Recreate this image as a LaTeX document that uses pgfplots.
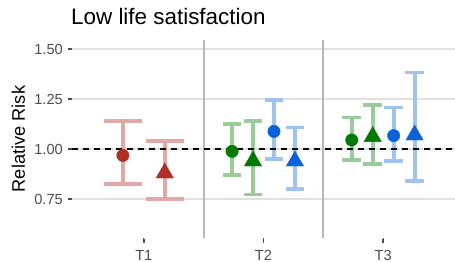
\documentclass[border=0pt]{standalone}
\usepackage{fontspec}
\setmainfont{Liberation Sans}
\usepackage{pgfplots}
\pgfplotsset{compat=1.18}
\definecolor{redD}{HTML}{B22D22}
\definecolor{redL}{HTML}{E2A8A5}
\definecolor{greenD}{HTML}{007A00}
\definecolor{greenL}{HTML}{9ACC9A}
\definecolor{blueD}{HTML}{0A62D6}
\definecolor{blueL}{HTML}{9DC3EE}
\definecolor{gridgray}{HTML}{E0E0E0}
\definecolor{sepgray}{HTML}{B8B8B8}
\definecolor{tickgray}{HTML}{4D4D4D}
\pgfplotsset{
  ebar/.style 2 args={draw=none, mark=none, forget plot,
    error bars/.cd, y dir=both, y explicit,
    error bar style={draw=#1, line width=3.8bp, solid},
    error mark=-,
    error mark options={draw=#1, line width=3.8bp, mark size=#2, rotate=90, solid}},
}
\pgfplotstableread{
x y ep em
0.825 0.968 0.172 0.142
}\tA
\pgfplotstableread{
x y ep em
1.175 0.880 0.162 0.131
}\tB
\pgfplotstableread{
x y ep em
1.7375 0.988 0.137 0.116
2.7375 1.045 0.113 0.100
}\gC
\pgfplotstableread{
x y ep em
1.9125 0.940 0.200 0.167
2.9125 1.062 0.158 0.137
}\gT
\pgfplotstableread{
x y ep em
2.0875 1.088 0.158 0.137
3.0875 1.067 0.141 0.127
}\bC
\pgfplotstableread{
x y ep em
2.2625 0.940 0.168 0.140
3.2625 1.070 0.313 0.230
}\bT
\begin{document}
\begin{tikzpicture}
\begin{axis}[
  scale only axis, width=383bp, height=198bp,
  xmin=0.4, xmax=3.6, ymin=0.555, ymax=1.545,
  clip=false,
  axis line style={draw=none},
  xtick={1,2,3}, xticklabels={T1,T2,T3},
  ytick={0.75,1,1.25,1.5},
  yticklabels={0.75,1.00,1.25,1.50},
  ymajorgrids, grid style={color=gridgray, line width=1.4bp},
  tick style={color=tickgray, line width=1.1bp},
  tick align=outside, major tick length=4bp,
  xtick pos=left, ytick pos=left,
  ticklabel style={font=\fontsize{14.7}{14.7}\selectfont, text=tickgray},
  yticklabel style={anchor=east, inner sep=0pt, xshift=-5bp},
  xticklabel style={anchor=north, inner sep=0pt, yshift=-8bp},
]
% panel separators
\addplot[sepgray, line width=1.8bp, forget plot] coordinates {(1.5,0.555) (1.5,1.545)};
\addplot[sepgray, line width=1.8bp, forget plot] coordinates {(2.5,0.555) (2.5,1.545)};
% x tick marks
\addplot[tickgray, line width=1.5bp, forget plot] coordinates {(1,0.552) (1,0.532)};
\addplot[tickgray, line width=1.5bp, forget plot] coordinates {(2,0.552) (2,0.532)};
\addplot[tickgray, line width=1.5bp, forget plot] coordinates {(3,0.552) (3,0.532)};
% error bars
\addplot[ebar={redL}{18.8bp}] table[x=x, y=y, y error plus=ep, y error minus=em] {\tA};
\addplot[ebar={redL}{18.8bp}] table[x=x, y=y, y error plus=ep, y error minus=em] {\tB};
\addplot[ebar={greenL}{9.35bp}] table[x=x, y=y, y error plus=ep, y error minus=em] {\gC};
\addplot[ebar={greenL}{9.35bp}] table[x=x, y=y, y error plus=ep, y error minus=em] {\gT};
\addplot[ebar={blueL}{9.35bp}] table[x=x, y=y, y error plus=ep, y error minus=em] {\bC};
\addplot[ebar={blueL}{9.35bp}] table[x=x, y=y, y error plus=ep, y error minus=em] {\bT};
% reference line
\addplot[black, line width=1.6bp, dash pattern=on 6bp off 5bp] coordinates {(0.4,1) (3.6,1)};
% points
\addplot[only marks, mark=*, mark size=6.2bp, color=redD, mark options={solid}] table[x=x, y=y] {\tA};
\addplot[only marks, mark=triangle*, mark size=10bp, color=redD, mark options={solid}] table[x=x, y=y] {\tB};
\addplot[only marks, mark=*, mark size=6.2bp, color=greenD, mark options={solid}] table[x=x, y=y] {\gC};
\addplot[only marks, mark=triangle*, mark size=10bp, color=greenD, mark options={solid}] table[x=x, y=y] {\gT};
\addplot[only marks, mark=*, mark size=6.2bp, color=blueD, mark options={solid}] table[x=x, y=y] {\bC};
\addplot[only marks, mark=triangle*, mark size=10bp, color=blueD, mark options={solid}] table[x=x, y=y] {\bT};
\end{axis}
\node[anchor=base west, inner sep=0pt, font=\fontsize{22.5}{22.5}\selectfont] at (-1bp,213bp) {Low life satisfaction};
\node[rotate=90, anchor=base, inner sep=0pt, font=\fontsize{18.3}{18.3}\selectfont] at (-47bp,99bp) {Relative Risk};
\pgfresetboundingbox
\path[use as bounding box] (-72bp,-24bp) rectangle (383bp,238bp);
\end{tikzpicture}
\end{document}
